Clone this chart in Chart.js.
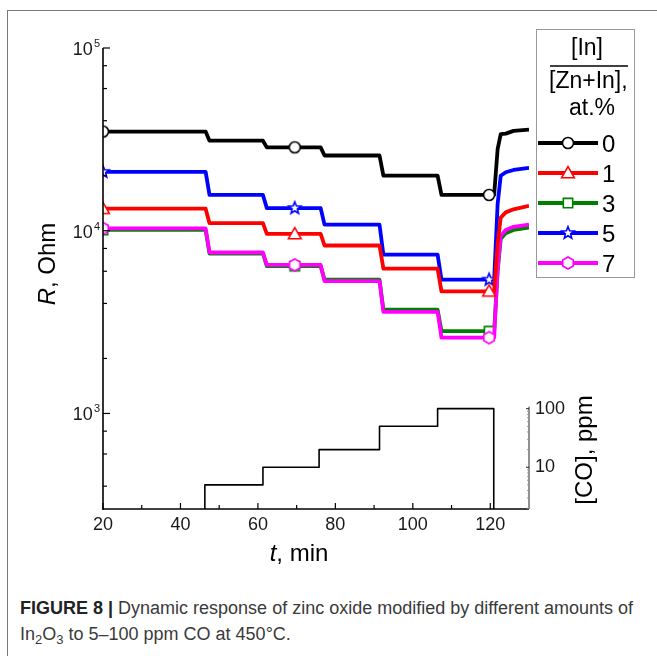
<!DOCTYPE html>
<html><head><meta charset="utf-8">
<script src="https://cdn.jsdelivr.net/npm/chart.js@4.4.1/dist/chart.umd.min.js"></script>
<style>
html,body{margin:0;padding:0;background:#fff;}
#wrap{position:relative;width:657px;height:656px;overflow:hidden;background:#fff;}
#frame{position:absolute;left:7px;top:10px;width:700px;height:700px;border-left:1px solid #777;border-top:1px solid #777;}
#c{position:absolute;left:0;top:0;}
#cap{position:absolute;left:20px;top:595px;font-family:'Liberation Sans',Arial,sans-serif;font-size:18px;line-height:26px;color:#3a3a3a;white-space:nowrap;}
#cap b{color:#222;}
#cap sub{font-size:13px;vertical-align:-4px;line-height:0;}
</style></head><body>
<div id="wrap">
<div id="frame"></div>
<canvas id="c" width="657" height="580"></canvas>
<div id="cap"><b>FIGURE 8 |</b> Dynamic response of zinc oxide modified by different amounts of<br>In<sub>2</sub>O<sub>3</sub> to 5–100 ppm CO at 450°C.</div>
</div>
<script>
const FONT = "'Liberation Sans', Arial, sans-serif";

// ---- data ----
const seriesNames   = ['0', '1', '3', '5', '7'];
const seriesColors  = ['#000000', '#ff0000', '#008000', '#0000ff', '#ff00ff'];
const seriesMarkers = ['circle', 'triangle', 'square', 'star', 'hexagon'];

// times (min) at which the CO concentration was switched
const stepTimes = [20, 46.5, 61.3, 76.2, 91.4, 106.4, 121.0];
// resistance level (Ohm) on each plateau
const levels0 = [34900, 31100, 28600, 25800, 20000, 15700];
const levels1 = [13200, 11000, 9600, 8300, 6200, 4660];
const levels3 = [10100, 7500, 6400, 5400, 3700, 2820];
const levels5 = [21000, 15700, 13300, 10800, 7400, 5400];
const levels7 = [10300, 7600, 6500, 5300, 3600, 2600];
// recovery after CO is switched off
const recTimes = [121.9, 122.7, 124, 126, 130];
const rec0 = [28000, 33800, 34000, 35200, 35800];
const rec1 = [8500, 11800, 12600, 13100, 13700];
const rec3 = [6000, 9000, 9700, 10100, 10400];
const rec5 = [14000, 20000, 20900, 21500, 22100];
const rec7 = [6200, 9400, 10100, 10500, 10800];
// times of the symbols drawn on the curves
const markerTimes = [20, 69.5, 119.7];

// CO concentration profile (ppm)
const coStepTimes = [46.3, 61.3, 75.8, 91.4, 106.4, 120.9];
const coLevels = [5, 10, 20, 50, 100];
const coOff = 1; // 0 ppm, below the axis

// ticks
const xTicks = [20, 40, 60, 80, 100, 120];
const xMinorTicks = [30, 50, 70, 90, 110];
const yTicks = [1e3, 1e4, 1e5];
const yTickExp = ['3', '4', '5'];
const yMinorTicks = [400, 600, 800, 2000, 4000, 6000, 8000, 20000, 40000, 60000, 80000];
const coTicks = [10, 100];
const coMinorTicks = [2, 3, 4, 5, 6, 7, 8, 9, 20, 30, 40, 50, 60, 70, 80, 90];

const allLevels = [levels0, levels1, levels3, levels5, levels7];
const allRec = [rec0, rec1, rec3, rec5, rec7];

// ---- marker shapes ----
function drawShape(ctx, shape, x, y, r, color, lw) {
  ctx.save();
  ctx.beginPath();
  if (shape === 'circle') {
    ctx.arc(x, y, r, 0, Math.PI * 2);
  } else if (shape === 'triangle') {
    ctx.moveTo(x, y - r * 1.15);
    ctx.lineTo(x + r * 1.15, y + r * 0.85);
    ctx.lineTo(x - r * 1.15, y + r * 0.85);
    ctx.closePath();
  } else if (shape === 'square') {
    ctx.rect(x - r * 0.85, y - r * 0.85, r * 1.7, r * 1.7);
  } else if (shape === 'star') {
    for (let i = 0; i < 10; i++) {
      const a = -Math.PI / 2 + i * Math.PI / 5;
      const rr = i % 2 === 0 ? r * 1.15 : r * 0.5;
      const px = x + rr * Math.cos(a), py = y + rr * Math.sin(a);
      if (i === 0) ctx.moveTo(px, py); else ctx.lineTo(px, py);
    }
    ctx.closePath();
  } else if (shape === 'hexagon') {
    for (let i = 0; i < 6; i++) {
      const a = Math.PI / 6 + i * Math.PI / 3;
      const px = x + r * 1.1 * Math.cos(a), py = y + r * 1.1 * Math.sin(a);
      if (i === 0) ctx.moveTo(px, py); else ctx.lineTo(px, py);
    }
    ctx.closePath();
  }
  ctx.fillStyle = '#fff';
  ctx.fill();
  ctx.lineWidth = lw;
  ctx.strokeStyle = color;
  ctx.stroke();
  ctx.restore();
}
function markerCanvas(shape, color) {
  const c = document.createElement('canvas');
  c.width = 20; c.height = 20;
  drawShape(c.getContext('2d'), shape, 10, 10, 5.5, color, 1.6);
  return c;
}

// ---- build datasets ----
function buildSeries(levels, rec) {
  const pts = [];
  const ramp = 1.0;
  for (let i = 0; i < levels.length; i++) {
    const t0 = i === 0 ? stepTimes[0] : stepTimes[i] + ramp;
    const t1 = stepTimes[i + 1];
    const inner = markerTimes.filter(m => m >= t0 && m <= t1);
    pts.push({x: t0, y: levels[i], m: inner.includes(t0)});
    inner.filter(m => m !== t0 && m !== t1).forEach(m => pts.push({x: m, y: levels[i], m: true}));
    pts.push({x: t1, y: levels[i], m: false});
  }
  recTimes.forEach((t, i) => pts.push({x: t, y: rec[i], m: false}));
  return pts;
}
const drawOrder = [1, 2, 5, 3, 4];
const datasets = seriesNames.map((n, k) => ({
  label: n,
  data: buildSeries(allLevels[k], allRec[k]),
  borderColor: seriesColors[k],
  borderWidth: 3.8,
  pointStyle: markerCanvas(seriesMarkers[k], seriesColors[k]),
  pointRadius: ctx => (ctx.raw && ctx.raw.m) ? 6 : 0,
  tension: 0,
  yAxisID: 'y',
  order: drawOrder[k]
}));
const coPts = [];
coStepTimes.forEach((t, i) => {
  coPts.push({x: t, y: i === 0 ? coOff : coLevels[i - 1]});
  coPts.push({x: t, y: i < coLevels.length ? coLevels[i] : coOff});
});
datasets.push({
  label: 'CO',
  data: coPts,
  borderColor: '#000',
  borderWidth: 1.6,
  pointRadius: 0,
  yAxisID: 'y2',
  order: 6
});

// ---- custom drawing: inward ticks, labels, titles, legend ----
function line(ctx, x1, y1, x2, y2) { ctx.beginPath(); ctx.moveTo(x1, y1); ctx.lineTo(x2, y2); ctx.stroke(); }

const extras = {
  id: 'extras',
  afterDraw(chart) {
    const ctx = chart.ctx, a = chart.chartArea;
    const xs = chart.scales.x, ys = chart.scales.y, y2 = chart.scales.y2;
    ctx.save();
    ctx.strokeStyle = '#000';
    ctx.lineWidth = 1.6;
    line(ctx, a.left, a.top, a.left, a.bottom + 0.8);
    line(ctx, a.left - 0.8, a.bottom, a.right, a.bottom);
    ctx.lineWidth = 1.2;
    yTicks.forEach(v => { const p = ys.getPixelForValue(v); line(ctx, a.left, p, a.left + 7, p); });
    yMinorTicks.forEach(v => { const p = ys.getPixelForValue(v); line(ctx, a.left, p, a.left + 4, p); });
    xTicks.forEach(v => { const p = xs.getPixelForValue(v); line(ctx, p, a.bottom, p, a.bottom - 6); });
    xMinorTicks.forEach(v => { const p = xs.getPixelForValue(v); line(ctx, p, a.bottom, p, a.bottom - 4); });
    // right CO axis (only bottom part)
    const topCo = y2.getPixelForValue(coTicks[coTicks.length - 1]);
    ctx.lineWidth = 1;
    ctx.strokeStyle = '#222';
    line(ctx, a.right, topCo - 2, a.right, a.bottom);
    coTicks.forEach(v => { const p = y2.getPixelForValue(v); line(ctx, a.right, p, a.right - 3, p); });
    ctx.strokeStyle = '#999';
    coMinorTicks.forEach(v => { const p = y2.getPixelForValue(v); line(ctx, a.right, p, a.right - 2, p); });

    // left tick labels 10^n
    ctx.fillStyle = '#1a1a1a';
    yTicks.forEach((v, i) => {
      const p = ys.getPixelForValue(v);
      ctx.font = '11px ' + FONT;
      ctx.textAlign = 'right';
      ctx.textBaseline = 'alphabetic';
      const ew = ctx.measureText(yTickExp[i]).width;
      ctx.fillText(yTickExp[i], a.left - 3, p - 1);
      ctx.font = '18px ' + FONT;
      ctx.fillText('10', a.left - 4 - ew, p + 7);
    });

    // axis titles
    ctx.fillStyle = '#000';
    ctx.textBaseline = 'alphabetic';
    function mixed(parts, cx, cy, rot) {
      ctx.save();
      ctx.translate(cx, cy);
      ctx.rotate(rot);
      let w = 0;
      parts.forEach(p => { ctx.font = p[1] + ' 24px ' + FONT; w += ctx.measureText(p[0]).width; });
      let x = -w / 2;
      ctx.textAlign = 'left';
      parts.forEach(p => { ctx.font = p[1] + ' 24px ' + FONT; ctx.fillText(p[0], x, 0); x += ctx.measureText(p[0]).width; });
      ctx.restore();
    }
    mixed([['R', 'italic'], [', Ohm', 'normal']], 55, 264, -Math.PI / 2);
    mixed([['t', 'italic'], [', min', 'normal']], 299, 561, 0);
    mixed([['[CO], ppm', 'normal']], 592, 450, -Math.PI / 2);

    // legend
    const lx = 536, ly = 29, lw = 98, lh = 248;
    ctx.strokeStyle = '#999';
    ctx.lineWidth = 1;
    ctx.strokeRect(lx + 0.5, ly + 0.5, lw, lh);
    ctx.fillStyle = '#000';
    ctx.font = '23px ' + FONT;
    ctx.textAlign = 'center';
    ctx.fillText('[In]', 587, 55);
    ctx.textAlign = 'left';
    ctx.fillText('[Zn+In],', 549, 88);
    ctx.fillText('at.%', 569, 115);
    ctx.strokeStyle = '#000';
    ctx.lineWidth = 1.3;
    line(ctx, 550, 66, 628, 66);
    const entryY = [143, 173, 203, 233, 263];
    seriesNames.forEach((n, k) => {
      const yy = entryY[k];
      ctx.strokeStyle = seriesColors[k];
      ctx.lineWidth = 3.8;
      line(ctx, 538, yy, 598, yy);
      drawShape(ctx, seriesMarkers[k], 568, yy, 5.5, seriesColors[k], 1.6);
      ctx.fillStyle = '#000';
      ctx.font = '24px ' + FONT;
      ctx.textAlign = 'left';
      ctx.fillText(n, 602, yy + 8.5);
    });
    ctx.restore();
  }
};

new Chart(document.getElementById('c'), {
  type: 'line',
  data: {datasets},
  options: {
    responsive: false,
    devicePixelRatio: 1,
    animation: false,
    events: [],
    layout: {padding: {top: 48, left: 0, right: 0, bottom: 0}},
    plugins: {legend: {display: false}, tooltip: {enabled: false}},
    elements: {line: {borderJoinStyle: 'round', borderCapStyle: 'butt'}},
    scales: {
      x: {
        type: 'linear', min: 20, max: 130,
        grid: {display: false, drawTicks: false},
        border: {display: false},
        ticks: {font: {size: 18, family: FONT}, color: '#1a1a1a', padding: 5, autoSkip: false, maxRotation: 0},
        afterBuildTicks: s => { s.ticks = xTicks.map(v => ({value: v})); },
        afterFit: s => { s.height = 71; }
      },
      y: {
        type: 'logarithmic', position: 'left', min: 300, max: 1e5,
        grid: {display: false, drawTicks: false},
        border: {display: false},
        ticks: {display: false},
        afterFit: s => { s.width = 103; }
      },
      y2: {
        type: 'logarithmic', position: 'right', min: 1.94, max: 1.43e8,
        grid: {display: false, drawTicks: false},
        border: {display: false},
        ticks: {font: {size: 18, family: FONT}, color: '#1a1a1a', padding: 6, callback: v => String(v)},
        afterBuildTicks: s => { s.ticks = coTicks.map(v => ({value: v})); },
        afterFit: s => { s.width = 128; }
      }
    }
  },
  plugins: [extras]
});
</script>
</body></html>
